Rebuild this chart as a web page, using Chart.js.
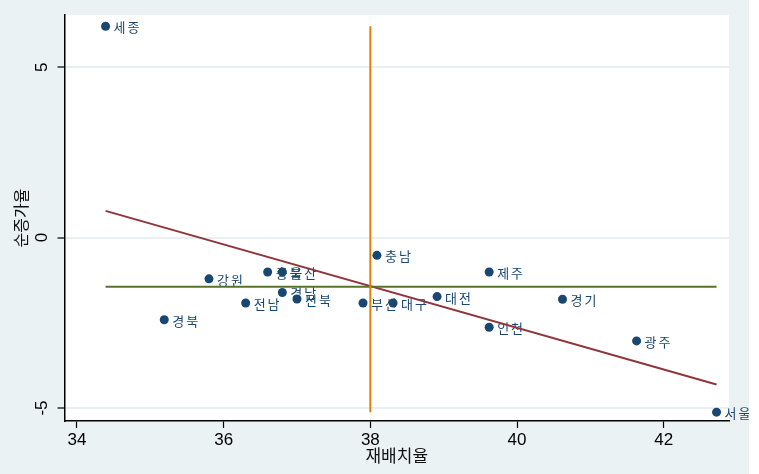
<!DOCTYPE html>
<html>
<head>
<meta charset="utf-8">
<script src="https://cdn.jsdelivr.net/npm/chart.js@4"></script>
<style>
    html, body { margin: 0; padding: 0; background: #ffffff; }
    #wrap { width: 749px; height: 474px; background: #eaf2f3; }
</style>
</head>
<body>
<div id="wrap"><canvas id="chart" width="749" height="474"></canvas></div>
<script>
    // Data
    const regions = ['세종', '강원', '충북', '울산', '경남', '전남', '전북', '경북', '부산',
                     '대구', '충남', '대전', '제주', '경기', '인천', '광주', '서울'];
    const relocation = [34.39, 35.80, 36.60, 36.80, 36.80, 36.30, 37.00, 35.19, 37.90,
                        38.31, 38.09, 38.91, 39.62, 40.62, 39.62, 41.63, 42.72];
    const netGrowth = [6.20, -1.21, -1.01, -1.01, -1.61, -1.92, -1.80, -2.41, -1.92,
                       -1.92, -0.52, -1.73, -1.01, -1.81, -2.63, -3.03, -5.12];

    // Fitted line and mean lines (end points)
    const fitX = [34.39, 42.72];
    const fitY = [0.785, -4.31];
    const meanX = 38.0;
    const meanY = -1.44;

    const xTicks = [34, 36, 38, 40, 42];
    const yTicks = [-5, 0, 5];

    const NAVY = '#1a476f';

    // Paint the plot region white
    const plotBg = {
        id: 'plotBg',
        beforeDraw: function(chart) {
            const a = chart.chartArea;
            const ctx = chart.ctx;
            ctx.save();
            ctx.fillStyle = '#ffffff';
            ctx.fillRect(a.left, a.top, a.right - a.left, a.bottom - a.top);
            ctx.restore();
        }
    };

    // Marker labels to the right of each point, under the lines
    const pointLabels = {
        id: 'pointLabels',
        afterDatasetDraw: function(chart, args) {
            if (args.index !== 3) return;
            const ctx = chart.ctx;
            const xs = chart.scales.x;
            const ys = chart.scales.y;
            ctx.save();
            ctx.font = '13px "Noto Sans CJK KR", sans-serif';
            ctx.letterSpacing = '2px';
            ctx.fillStyle = NAVY;
            ctx.textAlign = 'left';
            ctx.textBaseline = 'middle';
            regions.forEach(function(name, i) {
                const px = xs.getPixelForValue(relocation[i]);
                const py = ys.getPixelForValue(netGrowth[i]);
                ctx.fillText(name, px + 8, py + 1);
            });
            ctx.restore();
        }
    };

    new Chart(document.getElementById('chart'), {
        type: 'scatter',
        data: {
            datasets: [
                {
                    type: 'line',
                    data: [{ x: meanX, y: Math.max.apply(null, netGrowth) }, { x: meanX, y: Math.min.apply(null, netGrowth) }],
                    borderColor: '#e37e00',
                    borderWidth: 2,
                    pointRadius: 0,
                    fill: false
                },
                {
                    type: 'line',
                    data: [{ x: Math.min.apply(null, relocation), y: meanY }, { x: Math.max.apply(null, relocation), y: meanY }],
                    borderColor: '#55752f',
                    borderWidth: 2,
                    pointRadius: 0,
                    fill: false
                },
                {
                    type: 'line',
                    data: fitX.map(function(v, i) { return { x: v, y: fitY[i] }; }),
                    borderColor: '#90353b',
                    borderWidth: 2,
                    pointRadius: 0,
                    fill: false
                },
                {
                    data: relocation.map(function(v, i) { return { x: v, y: netGrowth[i] }; }),
                    backgroundColor: NAVY,
                    borderColor: NAVY,
                    borderWidth: 0,
                    pointRadius: 4.5,
                    clip: false
                }
            ]
        },
        options: {
            responsive: false,
            animation: false,
            events: [],
            layout: { padding: { top: 15, right: 20, left: 0, bottom: 0 } },
            plugins: {
                legend: { display: false },
                tooltip: { enabled: false }
            },
            scales: {
                x: {
                    type: 'linear',
                    min: 33.83,
                    max: 42.89,
                    afterBuildTicks: function(s) { s.ticks = xTicks.map(function(v) { return { value: v }; }); },
                    afterFit: function(s) { s.height = 53; s.paddingLeft = 0; s.paddingRight = 0; },
                    border: { display: true, color: '#000000', width: 1.5 },
                    grid: { drawOnChartArea: false, tickColor: '#000000', tickLength: 7, tickWidth: 1.2 },
                    ticks: {
                        color: '#000000',
                        font: { family: '"Liberation Sans", Arial, sans-serif', size: 17 },
                        padding: 2,
                        maxRotation: 0
                    },
                    title: {
                        display: true,
                        text: '재배치율',
                        color: '#111111',
                        font: { family: '"Noto Sans CJK KR", sans-serif', size: 17 },
                        padding: { top: 0, bottom: 8 }
                    }
                },
                y: {
                    type: 'linear',
                    min: -5.38,
                    max: 6.53,
                    afterBuildTicks: function(s) { s.ticks = yTicks.map(function(v) { return { value: v }; }); },
                    afterFit: function(s) { s.width = 64.5; s.paddingTop = 0; s.paddingBottom = 0; },
                    border: { display: true, color: '#000000', width: 1.5 },
                    grid: { color: '#e8eff2', lineWidth: 2, tickColor: '#000000', tickLength: 7, tickWidth: 1.2 },
                    ticks: {
                        color: '#000000',
                        font: { family: '"Liberation Sans", Arial, sans-serif', size: 17 },
                        minRotation: 90,
                        maxRotation: 90,
                        crossAlign: 'center',
                        padding: 8
                    },
                    title: {
                        display: true,
                        text: '순증가율',
                        color: '#111111',
                        font: { family: '"Noto Sans CJK KR", sans-serif', size: 16 },
                        padding: { top: 11, bottom: 0 }
                    }
                }
            }
        },
        plugins: [plotBg, pointLabels]
    });
</script>
</body>
</html>
